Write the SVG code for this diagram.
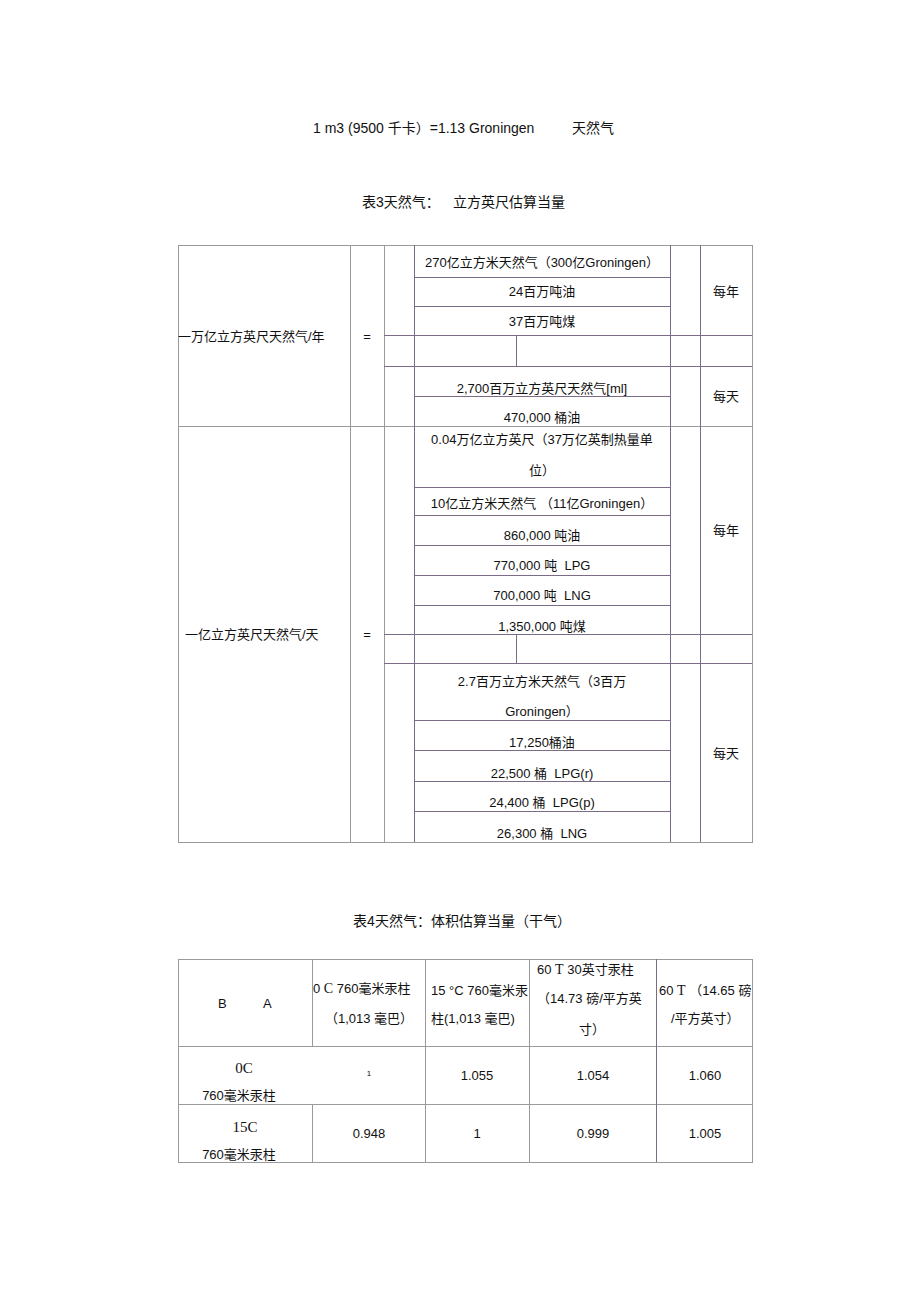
<svg xmlns="http://www.w3.org/2000/svg" width="920" height="1303" viewBox="0 0 920 1303">
<style>
.t{font-family:"Liberation Sans","Noto Sans CJK SC",sans-serif;font-size:13px;fill:#111}
.h{font-family:"Liberation Sans","Noto Sans CJK SC",sans-serif;font-size:14px;fill:#111}
.c{text-anchor:middle}
.s{font-family:"Liberation Serif","Noto Sans CJK SC",serif}
.sl{font-family:"Liberation Serif","Noto Sans CJK SC",serif;font-size:15px}
.g{stroke:#9a9a9a;stroke-width:1;fill:none}
.p{stroke:#7a6c86;stroke-width:1;fill:none}
</style>
<rect width="920" height="1303" fill="#fff"/>
<g id="titles">
<text class="h" x="313" y="133">1 m3 (9500 千卡）=1.13 Groningen</text>
<text class="h" x="572" y="133">天然气</text>
<text class="h" x="362" y="207">表3天然气：</text>
<text class="h" x="453" y="207">立方英尺估算当量</text>
<text class="h c" x="462" y="926">表4天然气：体积估算当量（干气）</text>
</g>
<g id="table3-lines">
<rect class="g" x="178.5" y="245.5" width="574" height="597"/>
<line class="g" x1="178" y1="426.5" x2="752" y2="426.5"/>
<line class="g" x1="350.5" y1="245" x2="350.5" y2="842"/>
<line class="g" x1="384.5" y1="245" x2="384.5" y2="842"/>
<line class="p" x1="414.5" y1="245" x2="414.5" y2="842"/>
<line class="p" x1="670.5" y1="245" x2="670.5" y2="842"/>
<line class="p" x1="700.5" y1="245" x2="700.5" y2="842"/>
<line class="p" x1="516.5" y1="335" x2="516.5" y2="366"/>
<line class="p" x1="516.5" y1="634" x2="516.5" y2="663"/>
<line class="p" x1="414" y1="277.5" x2="670" y2="277.5"/>
<line class="p" x1="414" y1="306.5" x2="670" y2="306.5"/>
<line class="p" x1="384" y1="335.5" x2="752" y2="335.5"/>
<line class="p" x1="384" y1="366.5" x2="752" y2="366.5"/>
<line class="p" x1="414" y1="396.5" x2="670" y2="396.5"/>
<line class="p" x1="414" y1="487.5" x2="670" y2="487.5"/>
<line class="p" x1="414" y1="515.5" x2="670" y2="515.5"/>
<line class="p" x1="414" y1="545.5" x2="670" y2="545.5"/>
<line class="p" x1="414" y1="575.5" x2="670" y2="575.5"/>
<line class="p" x1="414" y1="605.5" x2="670" y2="605.5"/>
<line class="p" x1="384" y1="634.5" x2="752" y2="634.5"/>
<line class="p" x1="384" y1="663.5" x2="752" y2="663.5"/>
<line class="p" x1="414" y1="720.5" x2="670" y2="720.5"/>
<line class="p" x1="414" y1="750.5" x2="670" y2="750.5"/>
<line class="p" x1="414" y1="781.5" x2="670" y2="781.5"/>
<line class="p" x1="414" y1="811.5" x2="670" y2="811.5"/>
</g>
<g id="table3-block1">
<text class="t" x="178" y="341">一万亿立方英尺天然气/年</text>
<text class="t c" x="367" y="341">=</text>
<text class="t c" x="542" y="267">270亿立方米天然气（300亿Groningen）</text>
<text class="t c" x="542" y="296">24百万吨油</text>
<text class="t c" x="542" y="326">37百万吨煤</text>
<text class="t c" x="726" y="296">每年</text>
<text class="t c" x="542" y="393">2,700百万立方英尺天然气[ml]</text>
<text class="t c" x="542" y="422">470,000 桶油</text>
<text class="t c" x="726" y="401">每天</text>
</g>
<g id="table3-block2">
<text class="t" x="185" y="639">一亿立方英尺天然气/天</text>
<text class="t c" x="367" y="639">=</text>
<text class="t c" x="542" y="444">0.04万亿立方英尺（37万亿英制热量单</text>
<text class="t c" x="542" y="475">位）</text>
<text class="t c" x="542" y="508">10亿立方米天然气 （11亿Groningen）</text>
<text class="t c" x="542" y="540">860,000 吨油</text>
<text class="t c" x="542" y="570">770,000 吨 &#160;LPG</text>
<text class="t c" x="542" y="600">700,000 吨 &#160;LNG</text>
<text class="t c" x="542" y="631">1,350,000 吨煤</text>
<text class="t c" x="726" y="535">每年</text>
<text class="t c" x="542" y="686">2.7百万立方米天然气（3百万</text>
<text class="t c" x="542" y="716">Groningen）</text>
<text class="t c" x="542" y="747">17,250桶油</text>
<text class="t c" x="542" y="778">22,500 桶 &#160;LPG(r)</text>
<text class="t c" x="542" y="807">24,400 桶 &#160;LPG(p)</text>
<text class="t c" x="542" y="838">26,300 桶 &#160;LNG</text>
<text class="t c" x="726" y="758">每天</text>
</g>
<g id="table4-lines">
<rect class="g" x="178.5" y="959.5" width="574" height="203"/>
<line class="g" x1="178" y1="1046.5" x2="752" y2="1046.5"/>
<line class="g" x1="178" y1="1104.5" x2="752" y2="1104.5"/>
<line class="g" x1="312.5" y1="959" x2="312.5" y2="1046"/>
<line class="g" x1="312.5" y1="1104" x2="312.5" y2="1162"/>
<line class="g" x1="425.5" y1="959" x2="425.5" y2="1162"/>
<line class="g" x1="529.5" y1="959" x2="529.5" y2="1162"/>
<line class="p" x1="656.5" y1="959" x2="656.5" y2="1162"/>
</g>
<g id="table4-header">
<text class="t" x="218" y="1008">B</text>
<text class="t" x="263" y="1008">A</text>
<text class="t" x="313" y="993">0 <tspan class="s" style="font-size:14px">C</tspan> 760毫米汞柱</text>
<text class="t c" x="369" y="1023">（1,013 毫巴）</text>
<text class="t" x="431" y="995">15 °C 760毫米汞</text>
<text class="t" x="431" y="1023">柱(1,013 毫巴)</text>
<text class="t" x="537" y="974">60 <tspan class="s" style="font-size:14px">T</tspan> 30英寸汞柱</text>
<text class="t" x="537" y="1003">（14.73 磅/平方英</text>
<text class="t c" x="592" y="1034">寸）</text>
<text class="t" x="659" y="995">60 <tspan class="s" style="font-size:14px">T</tspan> （14.65 磅</text>
<text class="t" x="671" y="1023">/平方英寸）</text>
</g>
<g id="table4-row1">
<text class="t c sl" x="244" y="1073">0C</text>
<text class="t c" x="239" y="1100">760毫米汞柱</text>
<text class="t c" x="369" y="1076" style="font-size:8px">1</text>
<text class="t c" x="477" y="1080">1.055</text>
<text class="t c" x="593" y="1080">1.054</text>
<text class="t c" x="705" y="1080">1.060</text>
</g>
<g id="table4-row2">
<text class="t c sl" x="245" y="1132">15C</text>
<text class="t c" x="239" y="1159">760毫米汞柱</text>
<text class="t c" x="369" y="1138">0.948</text>
<text class="t c" x="477" y="1138">1</text>
<text class="t c" x="593" y="1138">0.999</text>
<text class="t c" x="705" y="1138">1.005</text>
</g>
</svg>
